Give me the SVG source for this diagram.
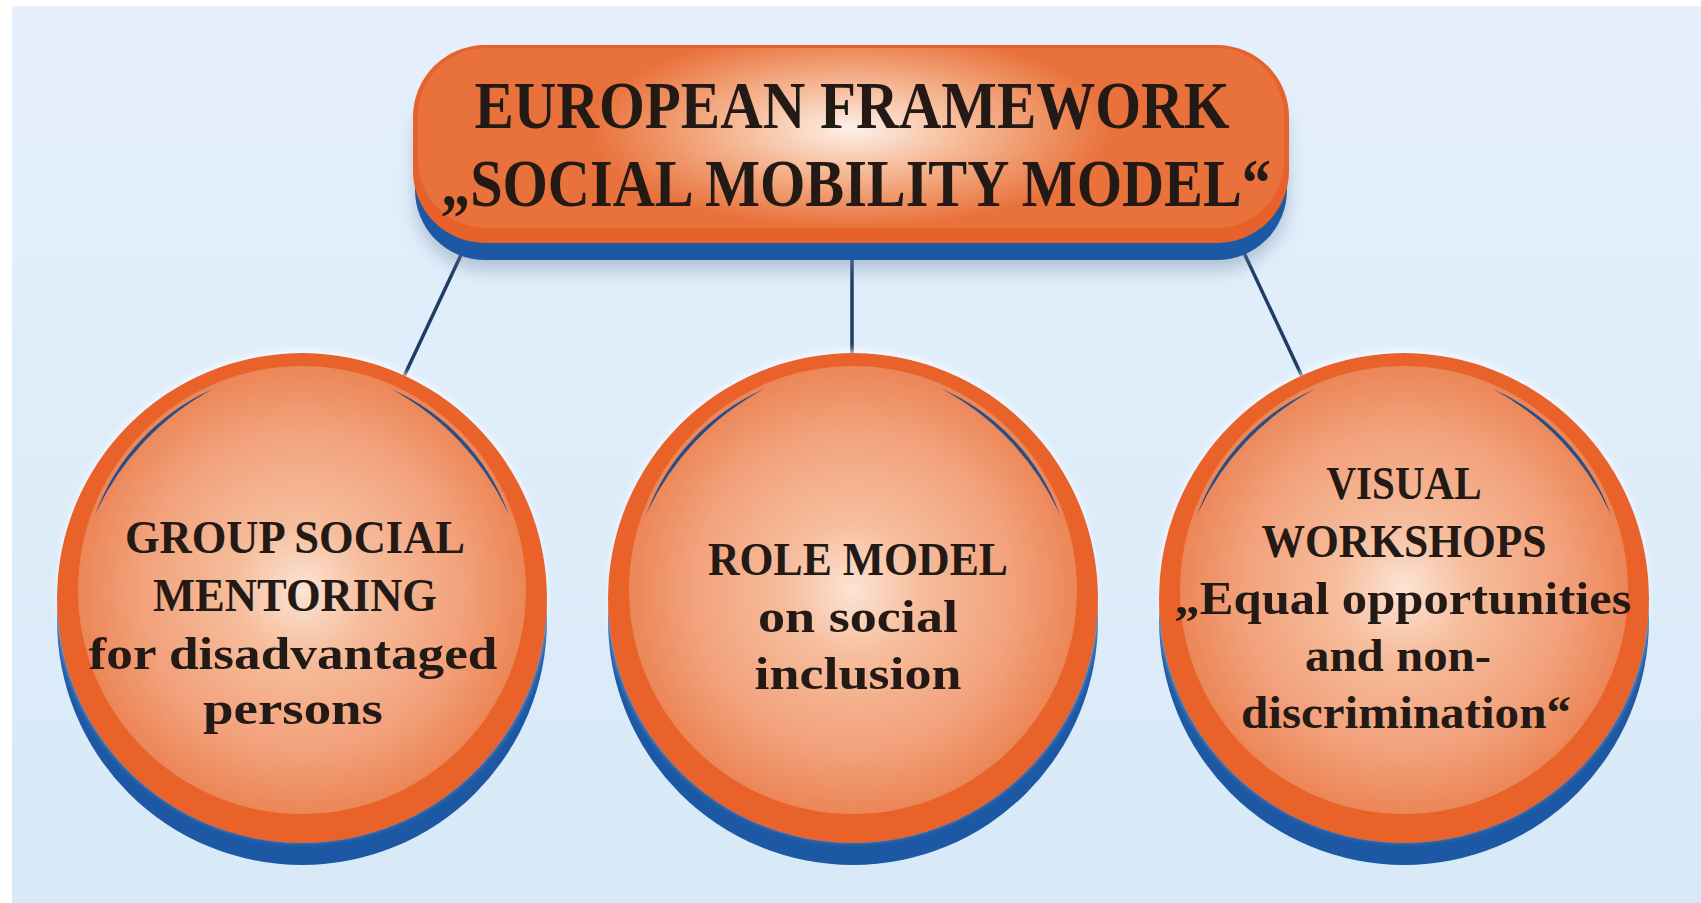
<svg xmlns="http://www.w3.org/2000/svg" width="1701" height="903" viewBox="0 0 1701 903">
  <defs>
    <linearGradient id="bg" x1="0" y1="0" x2="0" y2="1">
      <stop offset="0" stop-color="#e6f0fc"/>
      <stop offset="1" stop-color="#d7e9f7"/>
    </linearGradient>
    <radialGradient id="disc" cx="0.5" cy="0.5" r="0.5">
      <stop offset="0" stop-color="#fce4d5"/>
      <stop offset="0.3" stop-color="#f6bd9c"/>
      <stop offset="0.72" stop-color="#f2a17b"/>
      <stop offset="1" stop-color="#ec8657"/>
    </radialGradient>
    <radialGradient id="boxg" cx="0.5" cy="0.45" r="0.55" gradientTransform="translate(0.5 0.45) scale(0.55 1) translate(-0.5 -0.45)">
      <stop offset="0" stop-color="#fdf1e9"/>
      <stop offset="0.45" stop-color="#f5b894"/>
      <stop offset="1" stop-color="#e9713b"/>
    </radialGradient>
    <filter id="sh" x="-10%" y="-20%" width="120%" height="160%">
      <feDropShadow dx="0" dy="10" stdDeviation="9" flood-color="#6f8aa5" flood-opacity="0.45"/>
    </filter>
    <filter id="glow" x="-10%" y="-10%" width="120%" height="120%">
      <feDropShadow dx="0" dy="-3" stdDeviation="3" flood-color="#ffffff" flood-opacity="0.7"/>
    </filter>
  </defs>
  <style>
    .t { font-family: "Liberation Serif", "DejaVu Serif", serif; font-weight: bold; fill: #231a15; text-anchor: middle; }
    .title { font-size: 68px; }
    .lbl { font-size: 46px; }
    .blue { fill: #1c58a3; }
    .ring { fill: #e8622a; }
    .disc { fill: url(#disc); }
    .arc { fill: #274e86; stroke: none; }
    .conn { stroke: #1f3d63; stroke-width: 3.5; fill: none; }
  </style>

  <rect x="0" y="0" width="1701" height="903" fill="#ffffff"/>
  <rect x="12" y="6" width="1689" height="897" fill="url(#bg)"/>

  <g id="connectors">
    <line class="conn" x1="468" y1="240" x2="400" y2="385"/>
    <line class="conn" x1="852" y1="250" x2="852" y2="365"/>
    <line class="conn" x1="1238" y1="240" x2="1306" y2="385"/>
  </g>

  <g id="node-top">
    <rect x="415" y="62" width="872" height="198" rx="70" class="blue" filter="url(#sh)"/>
    <rect x="413" y="45" width="876" height="198" rx="72" fill="#e6622a"/>
    <rect x="418" y="48" width="866" height="180" rx="68" fill="url(#boxg)"/>
    <text class="t title" x="852" y="128" textLength="755" lengthAdjust="spacingAndGlyphs">EUROPEAN FRAMEWORK</text>
    <text class="t title" x="856" y="206" textLength="830" lengthAdjust="spacingAndGlyphs">„SOCIAL MOBILITY MODEL“</text>
  </g>

  <g id="node-left">
    <circle cx="302" cy="620" r="245" class="blue"/>
    <circle cx="302" cy="598" r="245" class="ring" filter="url(#glow)"/>
    <circle cx="302" cy="590" r="224" class="disc"/>
    <path class="arc" d="M 95 515 A 220 220 0 0 1 213 389 A 270 270 0 0 0 95 515 Z"/>
    <path class="arc" d="M 391 389 A 220 220 0 0 1 509 515 A 270 270 0 0 0 391 389 Z"/>
    <text class="t lbl" x="295" y="553" textLength="340" lengthAdjust="spacingAndGlyphs">GROUP SOCIAL</text>
    <text class="t lbl" x="295" y="611" textLength="284" lengthAdjust="spacingAndGlyphs">MENTORING</text>
    <text class="t lbl" x="293" y="669" textLength="409" lengthAdjust="spacingAndGlyphs">for disadvantaged</text>
    <text class="t lbl" x="293" y="724" textLength="180" lengthAdjust="spacingAndGlyphs">persons</text>
  </g>

  <g id="node-middle">
    <circle cx="853" cy="620" r="245" class="blue"/>
    <circle cx="853" cy="598" r="245" class="ring" filter="url(#glow)"/>
    <circle cx="853" cy="590" r="224" class="disc"/>
    <path class="arc" d="M 646 515 A 220 220 0 0 1 764 389 A 270 270 0 0 0 646 515 Z"/>
    <path class="arc" d="M 942 389 A 220 220 0 0 1 1060 515 A 270 270 0 0 0 942 389 Z"/>
    <text class="t lbl" x="858" y="575" textLength="300" lengthAdjust="spacingAndGlyphs">ROLE MODEL</text>
    <text class="t lbl" x="858" y="632" textLength="200" lengthAdjust="spacingAndGlyphs">on social</text>
    <text class="t lbl" x="858" y="689" textLength="207" lengthAdjust="spacingAndGlyphs">inclusion</text>
  </g>

  <g id="node-right">
    <circle cx="1404" cy="620" r="245" class="blue"/>
    <circle cx="1404" cy="598" r="245" class="ring" filter="url(#glow)"/>
    <circle cx="1404" cy="590" r="224" class="disc"/>
    <path class="arc" d="M 1197 515 A 220 220 0 0 1 1315 389 A 270 270 0 0 0 1197 515 Z"/>
    <path class="arc" d="M 1493 389 A 220 220 0 0 1 1611 515 A 270 270 0 0 0 1493 389 Z"/>
    <text class="t lbl" x="1404" y="499" textLength="155" lengthAdjust="spacingAndGlyphs">VISUAL</text>
    <text class="t lbl" x="1404" y="557" textLength="285" lengthAdjust="spacingAndGlyphs">WORKSHOPS</text>
    <text class="t lbl" x="1403" y="614" textLength="457" lengthAdjust="spacingAndGlyphs">„Equal opportunities</text>
    <text class="t lbl" x="1398" y="671" textLength="186" lengthAdjust="spacingAndGlyphs">and non-</text>
    <text class="t lbl" x="1406" y="728" textLength="330" lengthAdjust="spacingAndGlyphs">discrimination“</text>
  </g>
</svg>
